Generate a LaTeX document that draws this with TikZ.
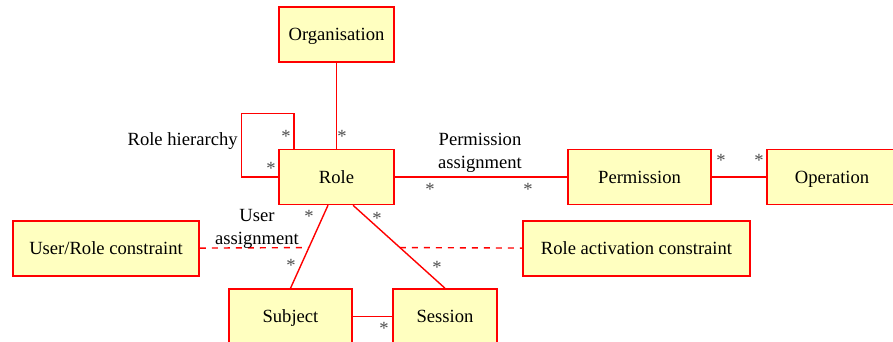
\documentclass[tikz,border=0pt]{standalone}
\usepackage{fontspec}
\newfontfamily\umlfont{Liberation Serif}
\usetikzlibrary{positioning}
\definecolor{umlred}{RGB}{255, 0, 0}
\definecolor{umlfill}{RGB}{255, 255, 192}
\tikzset{
  cls/.style={draw=umlred, fill=umlfill, line width=0.75pt, minimum height=27.5pt, inner sep=0pt, text height=6.2pt, text depth=0pt, font=\umlfont\fontsize{9.3}{11.2}\selectfont},
  assoc/.style={draw=umlred, line width=0.7pt},
  mult/.style={anchor=base, inner sep=0pt, text=black!70, font=\umlfont\fontsize{9.3}{11.2}\selectfont},
  lbl/.style={align=center, inner sep=0pt, font=\umlfont\fontsize{9.3}{11.2}\selectfont},
}

\begin{document}
\begin{tikzpicture}[x=0.5pt, y=-0.5pt]
  \useasboundingbox (0,0) rectangle (893,342);

  % classes
  \node[cls, minimum width=57.5pt] (org) at (336.5,34.5) {Organisation};
  \node[cls, minimum width=57.5pt] (role) at (336.5,177) {Role};
  \node[cls, minimum width=71.5pt] (perm) at (639.5,177) {Permission};
  \node[cls, minimum width=65pt] (oper) at (832,177) {Operation};
  \node[cls, minimum width=93pt] (urc) at (106,248.5) {User/Role constraint};
  \node[cls, minimum width=113.5pt] (rac) at (636.5,248.5) {Role activation constraint};
  \node[cls, minimum width=61.5pt] (subj) at (290.5,316.5) {Subject};
  \node[cls, minimum width=52pt] (sess) at (445,316.5) {Session};

  % associations
  \draw[assoc] (org) -- (role);
  \draw[assoc] (role) -- (perm);
  \draw[assoc] (perm) -- (oper);
  \draw[assoc] (subj) -- (sess);
  \draw[assoc] (subj.north) -- coordinate[pos=0.49] (ua) ([xshift=-4.25pt]role.south);
  \draw[assoc] ([xshift=8.25pt]role.south) -- coordinate[pos=0.51] (sa) (sess.north);
  % role hierarchy loop
  \draw[assoc] ([xshift=-21.25pt]role.north) -- ++(0,17.5pt) -| ([xshift=-18.5pt]role.west) -- (role.west);
  % constraints on the assignments
  \draw[assoc, dashed] (urc) -- (ua);
  \draw[assoc, dashed] (sa) -- (rac);

  % association names
  \node[lbl, anchor=east] (rh) at (238,141) {Role hierarchy};
  \node[lbl] (pa) at (480,153) {Permission\\assignment};
  \node[lbl] (ua-lbl) at (257,229) {User\\assignment};

  % multiplicities
  \node[mult] (m1) at (342,142) {*};
  \node[mult] (m2) at (286,142) {*};
  \node[mult] (m3) at (271,174) {*};
  \node[mult] (m4) at (430,195) {*};
  \node[mult] (m5) at (528,195) {*};
  \node[mult] (m6) at (721,166) {*};
  \node[mult] (m7) at (759,166) {*};
  \node[mult] (m8) at (309,222) {*};
  \node[mult] (m9) at (291,271) {*};
  \node[mult] (m10) at (377,224) {*};
  \node[mult] (m11) at (437,273) {*};
  \node[mult] (m12) at (384,334) {*};
\end{tikzpicture}
\end{document}
